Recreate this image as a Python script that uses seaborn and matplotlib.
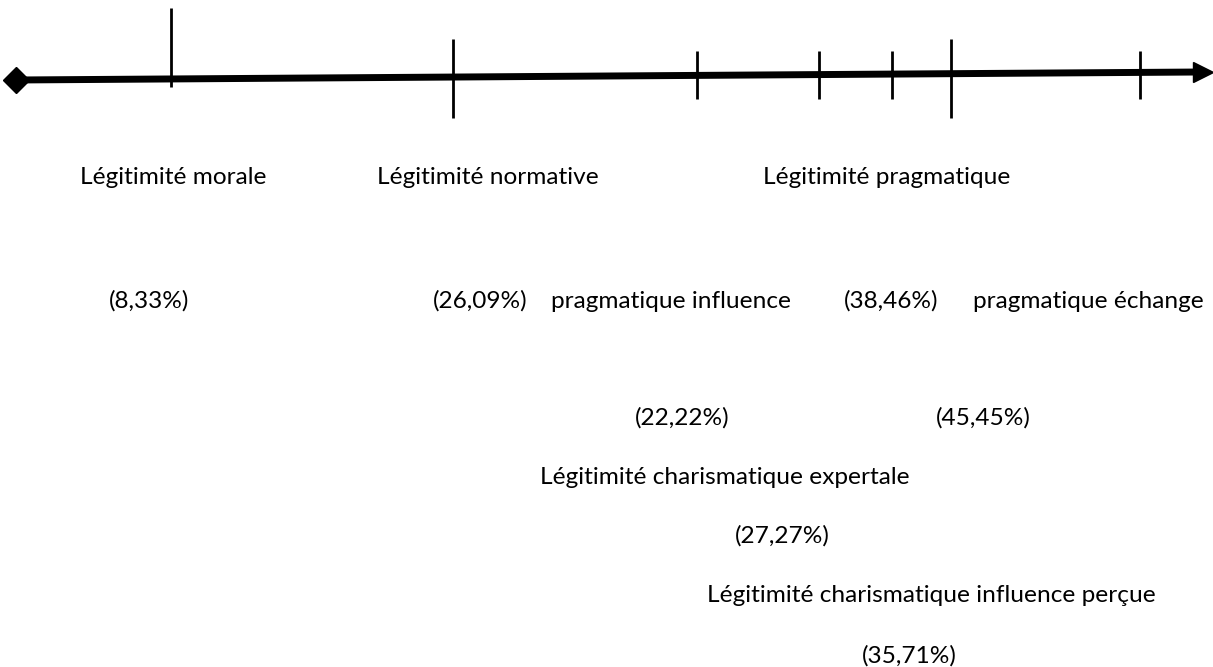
import numpy as np
import pandas as pd
import matplotlib
matplotlib.use("Agg")
import matplotlib.pyplot as plt
import seaborn as sns

# axis line (pixel space of the original drawing)
axis_x = [16, 1200]
axis_y = [80, 72]

# tick marks on the axis
tick_x = [171, 453, 697, 819, 892, 951, 1140]
tick_top = [8, 39, 51, 51, 51, 39, 51]
tick_bottom = [87, 118, 99, 99, 99, 118, 99]

# labels and their centres
labels = ["Légitimité morale", "Légitimité normative", "Légitimité pragmatique",
          "(8,33%)", "(26,09%)", "pragmatique influence", "(38,46%)", "pragmatique échange",
          "(22,22%)", "(45,45%)",
          "Légitimité charismatique expertale", "(27,27%)",
          "Légitimité charismatique influence perçue", "(35,71%)"]
label_x = [173, 488, 887,
           149, 480, 671, 891, 1088,
           682, 983,
           725, 782,
           931, 909]
label_y = [178, 178, 178,
           301, 301, 301, 301, 301,
           418, 418,
           477, 536,
           596, 656]

sns.set_style("white")
plt.rcParams['font.family'] = ['Lato', 'DejaVu Sans']

fig = plt.figure(figsize=(12.13, 6.67), dpi=100)
ax = fig.add_axes([0, 0, 1, 1])
ax.set_xlim(0, 1213)
ax.set_ylim(667, 0)
ax.axis('off')

# main axis: thick line, diamond at the start, arrow head at the end
sns.lineplot(x=axis_x, y=axis_y, color='black', linewidth=5, ax=ax)
ax.plot(axis_x[0], axis_y[0], marker='D', markersize=13, color='black')
ax.plot(axis_x[1] + 3, axis_y[1], marker='>', markersize=15, color='black')

ax.vlines(tick_x, tick_top, tick_bottom, color='black', linewidth=2)

for t, x, y in zip(labels, label_x, label_y):
    ax.text(x, y, t, ha='center', va='center', fontsize=17.6, color='black')

plt.savefig("out.png", dpi=100)
